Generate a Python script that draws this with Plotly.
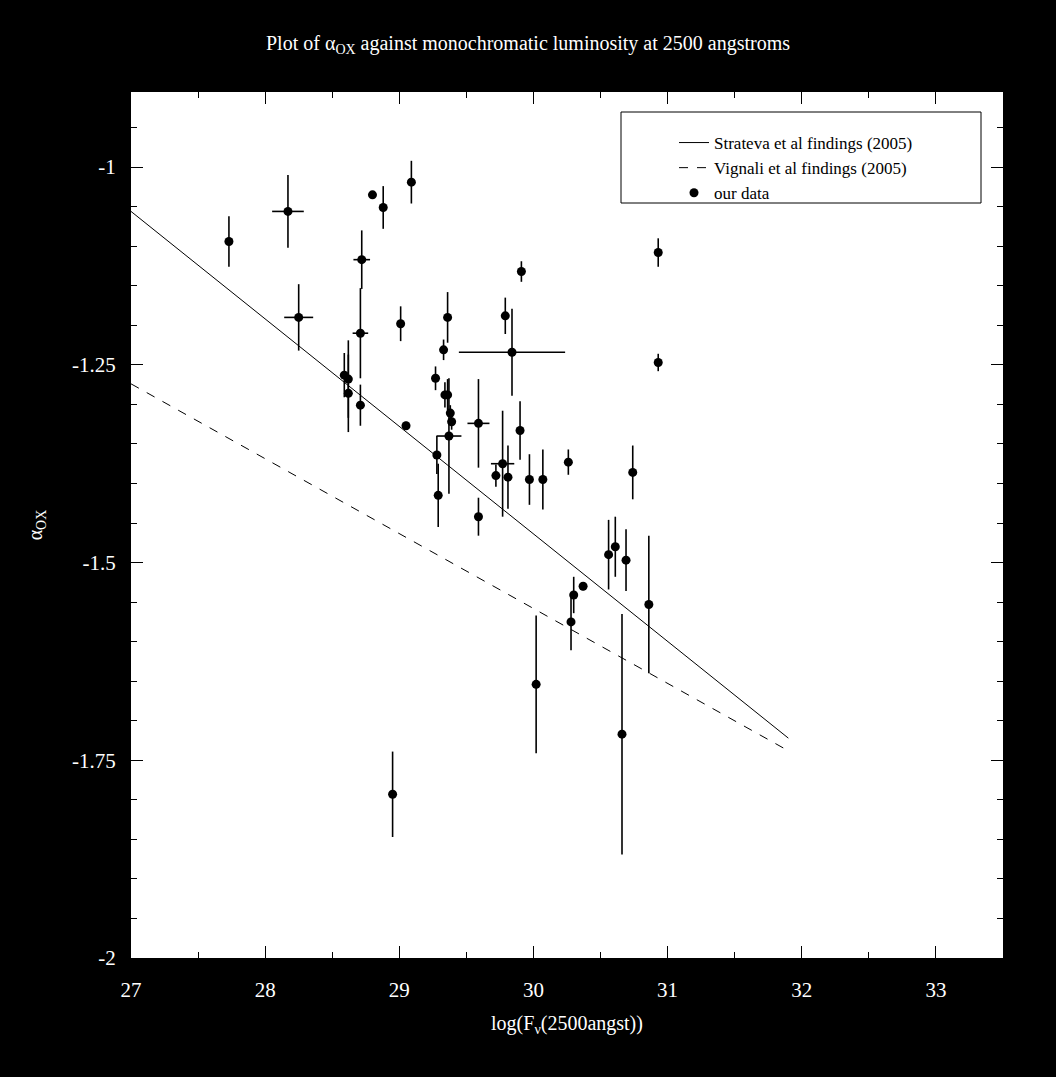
import plotly.graph_objects as go

# ---- data ----
lum = [27.73, 28.17, 28.80, 28.88, 29.09, 28.72, 28.25, 28.71, 29.01, 28.59,
       28.62, 28.62, 28.71, 29.05, 29.91, 29.36, 29.79, 29.84, 29.33, 29.27,
       29.34, 29.36, 29.38, 29.39, 29.37, 29.28, 29.29, 29.59, 29.90, 29.77,
       29.72, 29.81, 29.97, 30.07, 30.26, 29.59, 30.02, 30.28, 30.30, 30.37,
       30.56, 30.61, 30.69, 30.74, 30.86, 30.66, 30.93, 30.93, 28.95]
aox = [-1.094, -1.056, -1.035, -1.051, -1.019, -1.117, -1.190, -1.210, -1.198, -1.263,
       -1.268, -1.286, -1.301, -1.327, -1.132, -1.190, -1.188, -1.234, -1.231, -1.267,
       -1.288, -1.288, -1.311, -1.322, -1.340, -1.364, -1.415, -1.324, -1.333, -1.375,
       -1.390, -1.392, -1.395, -1.395, -1.373, -1.442, -1.654, -1.575, -1.541, -1.530,
       -1.490, -1.480, -1.497, -1.386, -1.553, -1.717, -1.108, -1.247, -1.793]
aox_err = [0.032, 0.046, 0.0, 0.027, 0.027, 0.037, 0.042, 0.057, 0.022, 0.028,
           0.049, 0.049, 0.026, 0.005, 0.013, 0.032, 0.023, 0.055, 0.013, 0.015,
           0.016, 0.020, 0.010, 0.010, 0.073, 0.024, 0.040, 0.056, 0.037, 0.067,
           0.014, 0.040, 0.032, 0.038, 0.016, 0.024, 0.087, 0.036, 0.023, 0.005,
           0.044, 0.038, 0.039, 0.034, 0.087, 0.152, 0.018, 0.011, 0.054]
lum_err = [0.0, 0.118, 0.0, 0.0, 0.0, 0.062, 0.108, 0.058, 0.0, 0.0,
           0.0, 0.0, 0.0, 0.0, 0.0, 0.0, 0.0, 0.396, 0.0, 0.0,
           0.0, 0.0, 0.0, 0.0, 0.093, 0.0, 0.0, 0.082, 0.0, 0.087,
           0.0, 0.0, 0.0, 0.0, 0.0, 0.0, 0.0, 0.0, 0.0, 0.0,
           0.0, 0.0, 0.0, 0.0, 0.0, 0.0, 0.0, 0.0, 0.0]

rel_x = [27.0, 31.9]
strateva_y = [-1.056, -1.722]
vignali_y = [-1.274, -1.738]

x_ticks = [27, 28, 29, 30, 31, 32, 33]
y_ticks = [-1, -1.25, -1.5, -1.75, -2]
y_ticktext = ["-1", "-1.25", "-1.5", "-1.75", "-2"]

FONT = "Liberation Serif, Times New Roman, serif"

fig = go.Figure()
fig.add_trace(go.Scatter(x=rel_x, y=strateva_y, mode="lines",
                         name="Strateva et al findings (2005)",
                         line=dict(color="black", width=1)))
fig.add_trace(go.Scatter(x=rel_x, y=vignali_y, mode="lines",
                         name="Vignali et al findings (2005)",
                         line=dict(color="black", width=1, dash="dash")))
fig.add_trace(go.Scatter(x=lum, y=aox, mode="markers", name="our data",
                         marker=dict(color="black", size=9),
                         error_y=dict(type="data", array=aox_err, color="black",
                                      thickness=1.6, width=0),
                         error_x=dict(type="data", array=lum_err, color="black",
                                      thickness=1.6, width=0)))

# plot-area pixel geometry
L, R, T, B = 131, 53, 92, 119
W, H = 1056, 1077
pw, ph = W - L - R, H - T - B

def px2x(p):
    return (p - L) / pw

def py2y(p):
    return (H - B - p) / ph

fig.add_shape(type="rect", xref="paper", yref="paper",
              x0=px2x(621), x1=px2x(981), y0=py2y(203), y1=py2y(112),
              line=dict(color="black", width=1), fillcolor="rgba(0,0,0,0)")

axis_common = dict(showgrid=False, zeroline=False, showline=True, linecolor="black",
                   linewidth=1, mirror="ticks", ticks="inside", ticklen=12,
                   tickwidth=1, tickcolor="black",
                   tickfont=dict(family=FONT, size=21, color="white"))

fig.update_xaxes(range=[27, 33.5], tickvals=x_ticks, ticklabelstandoff=13,
                 minor=dict(ticks="inside", ticklen=6, tickcolor="black",
                            tick0=27, dtick=0.5),
                 title=dict(text="log(F<sub>ν</sub>(2500angst))",
                            font=dict(family=FONT, size=20, color="white"),
                            standoff=14),
                 **axis_common)
fig.update_yaxes(range=[-2, -0.905], tickvals=y_ticks, ticktext=y_ticktext,
                 ticklabelstandoff=10,
                 minor=dict(ticks="inside", ticklen=6, tickcolor="black",
                            tick0=-2, dtick=0.05),
                 title=dict(text="α<sub>OX</sub>",
                            font=dict(family=FONT, size=20, color="white"),
                            standoff=24),
                 **axis_common)

fig.update_layout(
    width=W, height=H, autosize=False,
    margin=dict(l=L, r=R, t=T, b=B, pad=0),
    paper_bgcolor="black", plot_bgcolor="white",
    title=dict(text="Plot of α<sub>OX</sub> against monochromatic luminosity at 2500 angstroms",
               x=0.5, xref="container", xanchor="center",
               y=1 - 43 / H, yref="container", yanchor="middle",
               font=dict(family=FONT, size=20, color="white")),
    legend=dict(x=px2x(674), y=py2y(125), xanchor="left", yanchor="top",
                bgcolor="rgba(0,0,0,0)", borderwidth=0,
                font=dict(family=FONT, size=17, color="black")),
    showlegend=True,
)

fig.write_html("out.html", config={"displayModeBar": False},
               post_script="document.body.style.margin='0';")
